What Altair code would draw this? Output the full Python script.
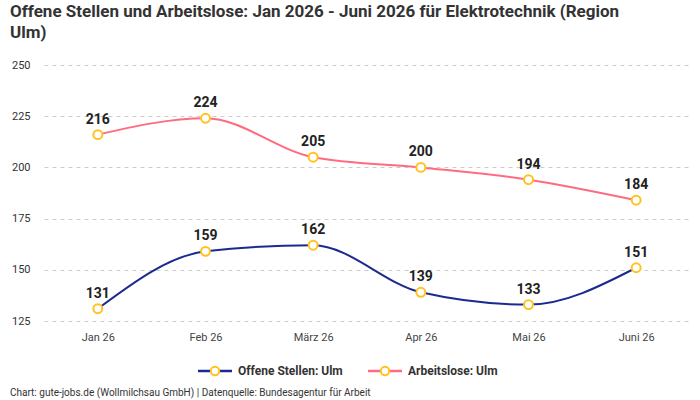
import altair as alt
import pandas as pd

months = ["Jan 26", "Feb 26", "März 26", "Apr 26", "Mai 26", "Juni 26"]
offene = [131, 159, 162, 139, 133, 151]
arbeitslose = [216, 224, 205, 200, 194, 184]
series_names = ["Offene Stellen: Ulm", "Arbeitslose: Ulm"]
series_colors = ["#1b2a8f", "#ff6b81"]
title_lines = ["Offene Stellen und Arbeitslose: Jan 2026 - Juni 2026 für Elektrotechnik (Region", "Ulm)"]
footer = "Chart: gute-jobs.de (Wollmilchsau GmbH) | Datenquelle: Bundesagentur für Arbeit"

rows = []
for m, v in zip(months, offene):
    rows.append({"Monat": m, "Wert": v, "Serie": series_names[0]})
for m, v in zip(months, arbeitslose):
    rows.append({"Monat": m, "Wert": v, "Serie": series_names[1]})
df = pd.DataFrame(rows)

W, H = 646, 256
FONT = "Liberation Sans Narrow, Roboto, sans-serif"
POINT_STROKE = "#ffc21f"

x = alt.X("Monat:N", sort=months, title=None,
          scale=alt.Scale(type="point", padding=0.5),
          axis=alt.Axis(labelAngle=0, domain=False, ticks=False, grid=False,
                        labelPadding=10, labelFontSize=11, labelColor="#444",
                        labelFont="Roboto"))
y = alt.Y("Wert:Q", title=None,
          scale=alt.Scale(domain=[125, 250], nice=False, zero=False),
          axis=alt.Axis(values=[125, 150, 175, 200, 225, 250], domain=False, ticks=False,
                        grid=True, gridDash=[4, 4], gridColor="#cccccc",
                        labelPadding=14, labelFontSize=11, labelColor="#333",
                        labelFont="Roboto"))
color = alt.Color("Serie:N", scale=alt.Scale(domain=series_names, range=series_colors), legend=None)

base = alt.Chart(df)
lines = base.mark_line(interpolate="monotone", strokeWidth=2).encode(x=x, y=y, color=color)
points = base.mark_point(filled=True, fill="white", stroke=POINT_STROKE, strokeWidth=2,
                         size=80, opacity=1, shape="circle").encode(x=x, y=y)
labels = base.mark_text(dy=-15, fontSize=14, fontWeight="bold", color="#222",
                        font="Roboto").encode(x=x, y=y, text="Wert:Q")

# manual legend
leg_layers = []
for i, (name, col) in enumerate(zip(series_names, series_colors)):
    x0 = [154, 324][i]
    d = alt.Chart(pd.DataFrame({"Serie": [name]}))
    leg_layers.append(d.mark_rule(color=col, strokeWidth=2.5).encode(
        x=alt.value(x0), x2=alt.value(x0 + 34), y=alt.value(306)))
    leg_layers.append(d.mark_point(filled=True, fill="white", stroke=POINT_STROKE,
                                   strokeWidth=2, size=70, opacity=1).encode(
        x=alt.value(x0 + 17), y=alt.value(306)))
    leg_layers.append(d.mark_text(align="left", baseline="middle", fontSize=12,
                                  fontWeight="bold", color="#333", font=FONT).encode(
        x=alt.value(x0 + 40), y=alt.value(306), text="Serie:N"))

foot = alt.Chart(pd.DataFrame({"t": [footer]})).mark_text(
    align="left", baseline="middle", fontSize=10, color="#333", font="Roboto").encode(
    x=alt.value(-34), y=alt.value(328), text="t:N")

chart = alt.layer(lines, points, labels, *leg_layers, foot).properties(
    width=W, height=H,
    title=alt.Title(title_lines, anchor="start", frame="group", dx=-34, offset=17,
                    fontSize=17, fontWeight="bold", color="#333", font=FONT, lineHeight=21),
    autosize=alt.AutoSizeParams(type="none"),
    padding={"left": 44, "top": 65, "right": 10, "bottom": 79},
    background="white",
).configure_view(stroke=None)

chart.save("out.html", embed_options={"renderer": "svg", "actions": False})
